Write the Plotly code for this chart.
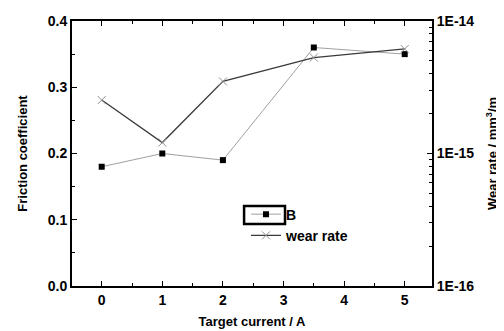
import plotly.graph_objects as go

# Data
target_current = [0, 1, 2, 3.5, 5]
friction_B = [0.18, 0.20, 0.19, 0.36, 0.35]
wear_rate = [2.53e-15, 1.21e-15, 3.5e-15, 5.3e-15, 6.15e-15]

left_ticks = [0.0, 0.1, 0.2, 0.3, 0.4]
left_ticktext = ["0.0", "0.1", "0.2", "0.3", "0.4"]
right_ticks = [1e-16, 1e-15, 1e-14]
right_ticktext = ["1E-16", "1E-15", "1E-14"]
x_ticks = [0, 1, 2, 3, 4, 5]

FONT = "Liberation Sans"
TICKFONT = dict(family=FONT, size=14, weight="bold", color="black")
TITLEFONT = dict(family=FONT, size=13, weight="bold", color="black")

fig = go.Figure()
fig.add_trace(go.Scatter(
    x=target_current, y=friction_B, name="B",
    mode="lines+markers",
    line=dict(color="#a0a0a0", width=1),
    marker=dict(symbol="square", size=6, color="black"),
    yaxis="y"))
fig.add_trace(go.Scatter(
    x=target_current, y=wear_rate, name="wear rate",
    mode="lines+markers",
    line=dict(color="#3a3a3a", width=1.3),
    marker=dict(symbol="x-thin", size=8, line=dict(color="#909090", width=1)),
    yaxis="y2"))

minor_log = [m * 10.0 ** e for e in (-16, -15) for m in range(2, 10)]

# page body adds an 8px offset, so the figure is 8px smaller and shifted
fig.update_layout(
    width=496, height=323,
    margin=dict(l=64, r=72, t=13, b=45, autoexpand=False),
    paper_bgcolor="white", plot_bgcolor="white",
    font=dict(family=FONT, size=13, color="black"),
    showlegend=True,
    legend=dict(x=0.4833, y=0.330, xanchor="left", yanchor="top",
                bgcolor="rgba(0,0,0,0)", borderwidth=0,
                font=dict(family=FONT, size=14, weight="bold", color="black"),
                tracegroupgap=0, itemwidth=30),
    xaxis=dict(
        range=[-0.49, 5.45], tickvals=x_ticks, automargin=False,
        ticks="inside", ticklen=5, tickwidth=1, tickcolor="black",
        minor=dict(ticks="inside", ticklen=3, dtick=0.5, tick0=0, tickcolor="black"),
        showline=True, linecolor="black", linewidth=2, mirror="ticks",
        showgrid=False, zeroline=False,
        tickfont=TICKFONT,
        title=dict(text="Target current / A", font=TITLEFONT, standoff=10),
    ),
    yaxis=dict(
        range=[0, 0.4], tickvals=left_ticks, ticktext=left_ticktext, automargin=False,
        ticks="inside", ticklen=5, tickwidth=1, tickcolor="black",
        minor=dict(ticks="inside", ticklen=3, dtick=0.05, tick0=0, tickcolor="black"),
        showline=True, linecolor="black", linewidth=2,
        showgrid=False, zeroline=False,
        tickfont=TICKFONT,
        title=dict(text="Friction coefficient", font=TITLEFONT, standoff=17),
    ),
    yaxis2=dict(
        type="log", range=[-16, -14], overlaying="y", side="right", automargin=False,
        tickvals=right_ticks, ticktext=right_ticktext,
        ticks="inside", ticklen=5, tickwidth=1, tickcolor="black",
        minor=dict(ticks="inside", ticklen=3, tickvals=minor_log, tickcolor="black"),
        showline=True, linecolor="black", linewidth=2,
        showgrid=False, zeroline=False,
        tickfont=TICKFONT,
        title=dict(text="Wear rate / mm<sup>3</sup>/m", font=TITLEFONT, standoff=15),
    ),
)

# box around the first legend entry, as in the reference
fig.add_shape(type="rect", xref="paper", yref="paper",
              x0=0.478, x1=0.5917, y0=0.234, y1=0.302,
              line=dict(color="black", width=2.5), fillcolor="rgba(0,0,0,0)")

fig.write_html("out.html")
